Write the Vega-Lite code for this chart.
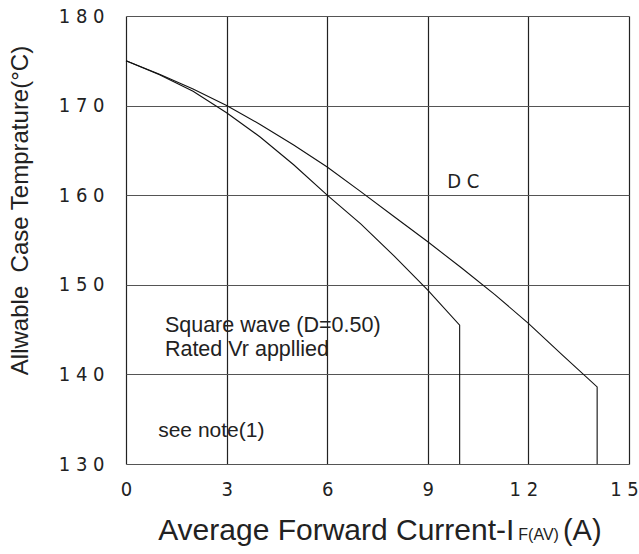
{
  "$schema": "https://vega.github.io/schema/vega-lite/v6.json",
  "width": 503,
  "height": 448,
  "autosize": {"type": "none"},
  "padding": {"left": 126, "top": 16, "right": 10, "bottom": 90},
  "background": "white",
  "config": {"view": {"stroke": null}, "font": "Liberation Sans"},
  "datasets": {
    "curves": [
      {"series": "DC", "current": 0, "temp": 175},
      {"series": "DC", "current": 1, "temp": 173.5},
      {"series": "DC", "current": 2, "temp": 171.85},
      {"series": "DC", "current": 3, "temp": 170.0},
      {"series": "DC", "current": 4, "temp": 167.9},
      {"series": "DC", "current": 5, "temp": 165.6},
      {"series": "DC", "current": 6, "temp": 163.15},
      {"series": "DC", "current": 7, "temp": 160.4},
      {"series": "DC", "current": 8, "temp": 157.6},
      {"series": "DC", "current": 9, "temp": 154.8},
      {"series": "DC", "current": 10, "temp": 151.9},
      {"series": "DC", "current": 11, "temp": 148.9},
      {"series": "DC", "current": 12, "temp": 145.7},
      {"series": "DC", "current": 13, "temp": 142.2},
      {"series": "DC", "current": 14.05, "temp": 138.6},
      {"series": "DC", "current": 14.05, "temp": 130},
      {"series": "Square", "current": 0, "temp": 175},
      {"series": "Square", "current": 1, "temp": 173.45},
      {"series": "Square", "current": 2, "temp": 171.6},
      {"series": "Square", "current": 3, "temp": 169.2},
      {"series": "Square", "current": 4, "temp": 166.5},
      {"series": "Square", "current": 5, "temp": 163.4},
      {"series": "Square", "current": 6, "temp": 160.0},
      {"series": "Square", "current": 7, "temp": 156.8},
      {"series": "Square", "current": 8, "temp": 153.2},
      {"series": "Square", "current": 9, "temp": 149.4},
      {"series": "Square", "current": 9.95, "temp": 145.5},
      {"series": "Square", "current": 9.95, "temp": 130}
    ],
    "texts": [
      {"kind": "dc", "label": "D C", "current": 10.06, "temp": 160.8},
      {"kind": "note", "label": "Square wave (D=0.50)", "current": 1.16, "temp": 144.7},
      {"kind": "note", "label": "Rated Vr appllied", "current": 1.16, "temp": 142.1},
      {"kind": "small", "label": "see note(1)", "current": 0.96, "temp": 133.0},
      {"kind": "xmain", "label": "Average Forward Current-I", "current": 6.27, "temp": 121.5},
      {"kind": "xsub", "label": "F(AV)", "current": 11.70, "temp": 121.5},
      {"kind": "xunit", "label": "(A)", "current": 13.03, "temp": 121.5}
    ]
  },
  "encoding": {
    "x": {
      "field": "current",
      "type": "quantitative",
      "scale": {"domain": [0, 15], "nice": false, "zero": false},
      "axis": {
        "values": [0, 3, 6, 9, 12, 15],
        "title": null,
        "grid": true,
        "gridColor": "#222",
        "gridWidth": 1.2,
        "gridOpacity": 1,
        "domain": false,
        "ticks": false,
        "tickSize": 0,
        "labelPadding": 15,
        "labelFlush": false,
        "labelOverlap": false,
        "labelOffset": {"condition": {"test": "datum.value >= 10", "value": -5}, "value": 0},
        "labelFont": "Liberation Sans Narrow, DejaVu Sans Condensed, Liberation Sans",
        "labelFontSize": 20,
        "labelColor": "#222",
        "labelExpr": "join(split(datum.label, ''), ' ')"
      }
    },
    "y": {
      "field": "temp",
      "type": "quantitative",
      "scale": {"domain": [130, 180], "nice": false, "zero": false},
      "axis": {
        "values": [130, 140, 150, 160, 170, 180],
        "title": "Allwable\u00a0 Case Temprature(°C)",
        "titleFont": "Liberation Sans",
        "titleFontSize": 24,
        "titleFontWeight": "normal",
        "titleColor": "#222",
        "titleX": -98.5,
        "titleY": 194,
        "titleAngle": -90,
        "titleAlign": "center",
        "titleBaseline": "alphabetic",
        "grid": true,
        "gridColor": "#555",
        "gridWidth": 1.2,
        "gridOpacity": 1,
        "domain": false,
        "ticks": false,
        "tickSize": 0,
        "labelPadding": 22,
        "labelFlush": false,
        "labelOverlap": false,
        "labelFont": "Liberation Sans Narrow, DejaVu Sans Condensed, Liberation Sans",
        "labelFontSize": 20,
        "labelColor": "#222",
        "labelExpr": "join(split(datum.label, ''), ' ')"
      }
    }
  },
  "layer": [
    {
      "data": {"name": "curves"},
      "mark": {"type": "line", "color": "#111", "strokeWidth": 1.1},
      "encoding": {
        "detail": {"field": "series"},
        "order": {"value": null}
      }
    },
    {
      "data": {"name": "texts"},
      "transform": [{"filter": "datum.kind === 'dc'"}],
      "mark": {"type": "text", "align": "center", "baseline": "alphabetic", "font": "Liberation Sans Narrow, DejaVu Sans Condensed, Liberation Sans", "fontSize": 20, "color": "#222"},
      "encoding": {"text": {"field": "label"}}
    },
    {
      "data": {"name": "texts"},
      "transform": [{"filter": "datum.kind === 'note'"}],
      "mark": {"type": "text", "align": "left", "baseline": "alphabetic", "fontSize": 21.5, "color": "#222"},
      "encoding": {"text": {"field": "label"}}
    },
    {
      "data": {"name": "texts"},
      "transform": [{"filter": "datum.kind === 'small'"}],
      "mark": {"type": "text", "align": "left", "baseline": "alphabetic", "fontSize": 21, "color": "#222"},
      "encoding": {"text": {"field": "label"}}
    },
    {
      "data": {"name": "texts"},
      "transform": [{"filter": "datum.kind === 'xmain'"}],
      "mark": {"type": "text", "align": "center", "baseline": "alphabetic", "fontSize": 30, "color": "#222"},
      "encoding": {"text": {"field": "label"}}
    },
    {
      "data": {"name": "texts"},
      "transform": [{"filter": "datum.kind === 'xsub'"}],
      "mark": {"type": "text", "align": "left", "baseline": "alphabetic", "fontSize": 16, "color": "#222"},
      "encoding": {"text": {"field": "label"}}
    },
    {
      "data": {"name": "texts"},
      "transform": [{"filter": "datum.kind === 'xunit'"}],
      "mark": {"type": "text", "align": "left", "baseline": "alphabetic", "fontSize": 29, "color": "#222"},
      "encoding": {"text": {"field": "label"}}
    }
  ]
}
